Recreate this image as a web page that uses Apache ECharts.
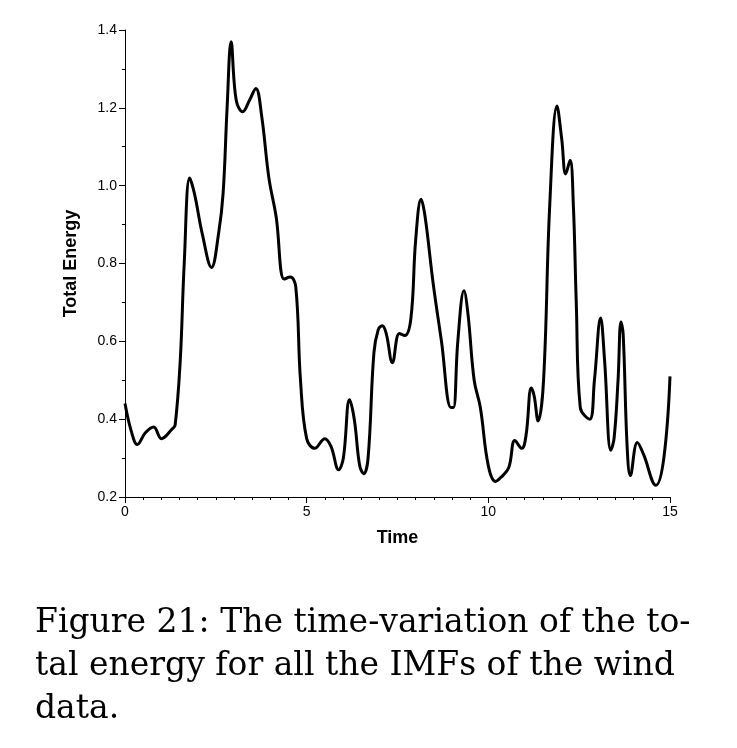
<!DOCTYPE html>
<html>
<head>
<meta charset="utf-8">
<script src="https://cdn.jsdelivr.net/npm/echarts@6/dist/echarts.min.js"></script>
<style>
  html, body { margin: 0; padding: 0; background: #fff; }
  #chart { width: 737px; height: 748px; }
</style>
</head>
<body>
<div id="chart"></div>
<script>
// total energy vs time
let energy = [
    [0, 0.44], [0.17, 0.37], [0.34, 0.335], [0.56, 0.365], [0.79, 0.38], [1.0, 0.35],
    [1.3, 0.375], [1.38, 0.385], [1.52, 0.55], [1.63, 0.8], [1.78, 1.02], [1.91, 0.98],
    [2.13, 0.875], [2.38, 0.79], [2.58, 0.88], [2.7, 0.98], [2.81, 1.2], [2.92, 1.37],
    [3.06, 1.22], [3.24, 1.19], [3.43, 1.22], [3.6, 1.25], [3.76, 1.18], [3.96, 1.02],
    [4.16, 0.92], [4.38, 0.76], [4.55, 0.765], [4.7, 0.74], [4.83, 0.5], [5.0, 0.35],
    [5.22, 0.325], [5.5, 0.35], [5.67, 0.33], [5.88, 0.27], [6.01, 0.3], [6.18, 0.45],
    [6.31, 0.4], [6.46, 0.28], [6.57, 0.26], [6.69, 0.3], [6.85, 0.57], [6.97, 0.63],
    [7.08, 0.64], [7.19, 0.62], [7.36, 0.545], [7.55, 0.62], [7.7, 0.615], [7.87, 0.66],
    [8.0, 0.86], [8.15, 0.965], [8.26, 0.92], [8.48, 0.75], [8.71, 0.6], [8.97, 0.43],
    [9.04, 0.43], [9.16, 0.6], [9.33, 0.73], [9.44, 0.67], [9.61, 0.5], [9.78, 0.43],
    [10.0, 0.28], [10.2, 0.24], [10.34, 0.25], [10.56, 0.275], [10.73, 0.345], [10.92, 0.325],
    [11.04, 0.36], [11.18, 0.48], [11.26, 0.46], [11.37, 0.395], [11.52, 0.5], [11.69, 0.95],
    [11.89, 1.205], [12.02, 1.12], [12.13, 1.03], [12.25, 1.065], [12.34, 0.95], [12.42, 0.7],
    [12.53, 0.43], [12.79, 0.4], [12.92, 0.5], [13.09, 0.66], [13.2, 0.55], [13.37, 0.32],
    [13.46, 0.35], [13.57, 0.5], [13.65, 0.65], [13.71, 0.62], [13.82, 0.33], [13.91, 0.255],
    [14.1, 0.34], [14.27, 0.31], [14.61, 0.23], [14.83, 0.3], [15.0, 0.51]
];

let chart = echarts.init(document.getElementById('chart'));
let axisText = { color: '#000', fontSize: 14, fontFamily: 'Liberation Sans' };
let nameText = { color: '#000', fontSize: 18, fontWeight: 'bold', fontFamily: 'Liberation Sans' };
let caption = { fontSize: 33, fontFamily: 'DejaVu Serif', fill: '#000' };
let option = {
    animation: false,
    grid: { left: 125, right: 67, top: 30, bottom: 251, show: false },
    xAxis: {
        type: 'value', min: 0, max: 15, interval: 5,
        name: 'Time', nameLocation: 'middle', nameGap: 32,
        nameTextStyle: nameText,
        axisLine: { lineStyle: { color: '#000', width: 1 } },
        axisTick: { show: true, length: 6, lineStyle: { color: '#000' } },
        minorTick: { show: true, splitNumber: 10, length: 3, lineStyle: { color: '#000' } },
        splitLine: { show: false },
        axisLabel: axisText
    },
    yAxis: {
        type: 'value', min: 0.2, max: 1.4, interval: 0.2,
        name: 'Total Energy', nameLocation: 'middle', nameGap: 45,
        nameTextStyle: nameText,
        axisLine: { show: true, lineStyle: { color: '#000', width: 1 } },
        axisTick: { show: true, length: 6, lineStyle: { color: '#000' } },
        minorTick: { show: true, splitNumber: 2, length: 3, lineStyle: { color: '#000' } },
        splitLine: { show: false },
        axisLabel: Object.assign({ formatter: v => v.toFixed(1) }, axisText)
    },
    series: [{
        type: 'line',
        data: energy,
        smooth: 0.4,
        showSymbol: false,
        lineStyle: { color: '#000', width: 3 }
    }],
    graphic: [
        { type: 'text', left: 35, top: 607, style: Object.assign({ text: 'Figure 21: The time-variation of the to-' }, caption) },
        { type: 'text', left: 35, top: 650, style: Object.assign({ text: 'tal energy for all the IMFs of the wind' }, caption) },
        { type: 'text', left: 35, top: 693, style: Object.assign({ text: 'data.' }, caption) }
    ]
};
chart.setOption(option);
</script>
</body>
</html>
